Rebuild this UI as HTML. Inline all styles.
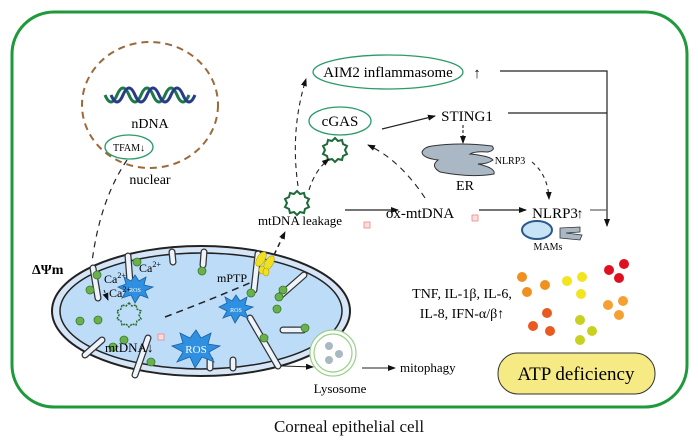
<!DOCTYPE html>
<html><head><meta charset="utf-8"><style>
html,body{margin:0;padding:0;background:#fff;}
svg{display:block;font-family:"Liberation Serif",serif;}
</style></head><body>
<svg width="698" height="442" viewBox="0 0 698 442" xmlns="http://www.w3.org/2000/svg">
<defs>
<marker id="ah" markerWidth="8" markerHeight="8" refX="7" refY="4" orient="auto" markerUnits="userSpaceOnUse"><path d="M0,1 L8,4 L0,7 Z" fill="#111"/></marker>
</defs>
<rect x="12" y="12" width="675" height="395" rx="42" fill="#fff" stroke="#1e9a3c" stroke-width="3"/>
<text x="349" y="432" font-size="17" text-anchor="middle" fill="#111">Corneal epithelial cell</text>

<!-- nucleus -->
<ellipse cx="150" cy="105" rx="68" ry="63" fill="none" stroke="#9b6a3a" stroke-width="2" stroke-dasharray="7,5"/>
<path d="M105,95 q6,14 12,0 q6,-14 12,0 q6,14 12,0 q6,-14 12,0 q6,14 12,0 q6,-14 12,0 q6,14 12,0" fill="none" stroke="#1c7a4a" stroke-width="3"/>
<path d="M111,95 q6,14 12,0 q6,-14 12,0 q6,14 12,0 q6,-14 12,0 q6,14 12,0 q6,-14 12,0 q6,14 12,0" fill="none" stroke="#283a8a" stroke-width="3"/>
<text x="150" y="128" font-size="14" text-anchor="middle">nDNA</text>
<ellipse cx="129" cy="147" rx="24" ry="12" fill="#fff" stroke="#2a9a6a" stroke-width="1.3"/>
<text x="129" y="151" font-size="10" text-anchor="middle">TFAM↓</text>
<text x="150" y="184" font-size="14" text-anchor="middle">nuclear</text>
<path d="M127,160 Q100,200 92,262" fill="none" stroke="#222" stroke-width="1.2" stroke-dasharray="6,5"/>

<!-- mitochondrion -->
<ellipse cx="201" cy="311" rx="149" ry="65" fill="#d6e6f6" stroke="#222" stroke-width="2"/>
<ellipse cx="201" cy="311" rx="141" ry="58" fill="#bcdcf8" stroke="#222" stroke-width="1.5"/>
<g stroke="#333" stroke-width="7" stroke-linecap="round"><path d="M93,268 L98,298 M128,256 L130,282 M172,252 L173,262 M204,252 L203,265 M258,254 L254,290 M304,275 L280,296 M303,330 L283,330 M102,340 L85,355 M148,338 L135,375 M210,360 L210,368 M233,360 L233,368 M250,318 L278,366"/></g>
<g stroke="#eef4fb" stroke-width="4.5" stroke-linecap="round"><path d="M93,268 L98,298 M128,256 L130,282 M172,252 L173,262 M204,252 L203,265 M258,254 L254,290 M304,275 L280,296 M303,330 L283,330 M102,340 L85,355 M148,338 L135,375 M210,360 L210,368 M233,360 L233,368 M250,318 L278,366"/></g>
<g fill="#6ab04c" stroke="#3a7a2a" stroke-width="0.8"><circle cx="97" cy="275" r="4"/><circle cx="90" cy="290" r="4"/><circle cx="137" cy="262" r="4"/><circle cx="202" cy="271" r="4"/><circle cx="283" cy="290" r="4"/><circle cx="279" cy="297" r="4"/><circle cx="277" cy="309" r="4"/><circle cx="80" cy="321" r="4"/><circle cx="98" cy="320" r="4"/><circle cx="124" cy="340" r="4"/><circle cx="113" cy="347" r="4"/><circle cx="305" cy="328" r="4"/><circle cx="264" cy="338" r="4"/><circle cx="151" cy="362" r="4"/><circle cx="251" cy="293" r="4"/></g>
<!-- ROS stars -->
<g fill="#2f8fe0" stroke="#1a5fa0" stroke-width="0.8">
<polygon points="135,275 139,281 146,277 144,285 153,287 145,291 148,298 140,295 135,303 131,295 122,298 126,291 118,287 126,284 124,277 131,281"/>
<polygon points="236,295 240,301 247,297 245,305 253,307 245,311 248,318 240,315 235,323 231,315 223,318 227,311 219,307 227,303 225,297 232,301"/>
<polygon points="196,330 201,338 211,333 208,344 220,346 209,352 214,362 202,357 195,368 190,357 177,362 183,352 172,346 183,343 180,333 190,338"/>
</g>
<text x="135" y="292" font-size="6" fill="#fff" text-anchor="middle">ROS</text>
<text x="236" y="312" font-size="6" fill="#fff" text-anchor="middle">ROS</text>
<text x="196" y="353" font-size="11" fill="#fff" text-anchor="middle">ROS</text>
<text x="104" y="283" font-size="12">Ca<tspan font-size="8" dy="-5">2+</tspan></text>
<text x="109" y="297" font-size="12">Ca<tspan font-size="8" dy="-5">2+</tspan></text>
<text x="139" y="272" font-size="12">Ca<tspan font-size="8" dy="-5">2+</tspan></text>
<path d="M104,290 L108,300" stroke="#222" stroke-dasharray="3,2" marker-end="url(#ah)"/>
<path d="M129,303 l3,3 l4,-1 l1,4 l4,2 l-2,4 l2,4 l-4,2 l-1,4 l-4,-1 l-3,3 l-3,-3 l-4,1 l-1,-4 l-4,-2 l2,-4 l-2,-4 l4,-2 l1,-4 l4,1 z" fill="none" stroke="#2a6a2a" stroke-width="1.5" stroke-dasharray="2,1"/>
<text x="105" y="352" font-size="13">mtDNA↓</text>
<rect x="158" y="334" width="6" height="6" fill="#fdd" stroke="#e88" stroke-width="0.8"/>
<text x="217" y="282" font-size="12">mPTP</text>
<g fill="#f0e020" stroke="#b0a010" stroke-width="0.6"><ellipse cx="261" cy="259" rx="4" ry="8" transform="rotate(30 261 259)"/><ellipse cx="269" cy="263" rx="4" ry="8" transform="rotate(30 269 263)"/><ellipse cx="262" cy="270" rx="3" ry="4"/><ellipse cx="266" cy="272" rx="3" ry="4"/></g>
<path d="M165,317 Q210,300 252,282" fill="none" stroke="#222" stroke-width="1.5" stroke-dasharray="7,5"/>
<path d="M274,255 L285,232" fill="none" stroke="#222" stroke-width="1.5" stroke-dasharray="5,4" marker-end="url(#ah)"/>
<text x="32" y="274" font-size="14" font-weight="bold">ΔΨm</text>

<!-- lysosome -->
<circle cx="333" cy="353" r="23" fill="#fff" stroke="#9ad08a" stroke-width="1.2"/>
<circle cx="333" cy="353" r="19" fill="#fff" stroke="#9ad08a" stroke-width="1.2"/>
<g fill="#aab8c4"><circle cx="329" cy="346" r="4"/><circle cx="339" cy="354" r="4"/><circle cx="329" cy="360" r="4"/></g>
<text x="340" y="393" font-size="13" text-anchor="middle">Lysosome</text>
<path d="M283,366 L313,367" stroke="#222" marker-end="url(#ah)"/>
<path d="M362,368 L395,368" stroke="#222" marker-end="url(#ah)"/>
<text x="400" y="372" font-size="13">mitophagy</text>

<!-- top pathways -->
<ellipse cx="388" cy="72" rx="75" ry="17" fill="#fff" stroke="#2a9a6a" stroke-width="1.3"/>
<text x="388" y="77" font-size="15" text-anchor="middle">AIM2 inflammasome</text>
<text x="477" y="78" font-size="15" text-anchor="middle">↑</text>
<path d="M500,71 L607,71 L607,226" fill="none" stroke="#222" stroke-width="1.2" marker-end="url(#ah)"/>
<ellipse cx="340" cy="121" rx="31" ry="14" fill="#fff" stroke="#2a9a6a" stroke-width="1.3"/>
<text x="340" y="126" font-size="15" text-anchor="middle">cGAS</text>
<path d="M335,138 l3,3 l4,-1 l1,4 l4,2 l-2,4 l2,4 l-4,2 l-1,4 l-4,-1 l-3,3 l-3,-3 l-4,1 l-1,-4 l-4,-2 l2,-4 l-2,-4 l4,-2 l1,-4 l4,1 z" fill="none" stroke="#1e6a3a" stroke-width="2"/>
<path d="M297,191 l3,3 l4,-1 l1,4 l4,2 l-2,4 l2,4 l-4,2 l-1,4 l-4,-1 l-3,3 l-3,-3 l-4,1 l-1,-4 l-4,-2 l2,-4 l-2,-4 l4,-2 l1,-4 l4,1 z" fill="none" stroke="#1e6a3a" stroke-width="2"/>
<text x="300" y="225" font-size="13" text-anchor="middle">mtDNA leakage</text>
<path d="M298,186 Q290,130 306,79" fill="none" stroke="#222" stroke-width="1.1" stroke-dasharray="5,4" marker-end="url(#ah)"/>
<path d="M309,190 Q315,170 329,159" fill="none" stroke="#222" stroke-width="1.1" stroke-dasharray="5,4" marker-end="url(#ah)"/>
<path d="M425,198 Q400,160 368,145" fill="none" stroke="#222" stroke-width="1.1" stroke-dasharray="6,5" marker-end="url(#ah)"/>
<text x="467" y="121" font-size="15" text-anchor="middle">STING1</text>
<path d="M382,129 L435,116" stroke="#222" stroke-width="1.2" marker-end="url(#ah)"/>
<path d="M508,113 L607,113" stroke="#222" stroke-width="1.2"/>
<path d="M463,125 L463,143" stroke="#222" stroke-width="1.1" stroke-dasharray="3,2" marker-end="url(#ah)"/>
<!-- ER -->
<path d="M432,146 Q460,142 492,146 Q496,150 488,152 Q475,151 470,154 Q490,156 493,160 Q488,164 478,164 Q496,168 494,174 Q470,178 440,172 Q430,166 438,160 Q422,158 422,152 Q424,147 432,146 Z" fill="#a9b8c4" stroke="#333" stroke-width="1"/>
<text x="465" y="190" font-size="14" text-anchor="middle">ER</text>
<text x="510" y="164" font-size="10" text-anchor="middle">NLRP3</text>
<path d="M532,162 Q548,175 549,199" fill="none" stroke="#222" stroke-width="1.1" stroke-dasharray="4,4" marker-end="url(#ah)"/>
<text x="420" y="218" font-size="15" text-anchor="middle">ox-mtDNA</text>
<rect x="472" y="215" width="6" height="6" fill="#fdd" stroke="#e88" stroke-width="0.8"/>
<rect x="364" y="222" width="6" height="6" fill="#fdd" stroke="#e88" stroke-width="0.8"/>
<path d="M345,210 L398,210" stroke="#222" stroke-width="1.2" marker-end="url(#ah)"/>
<path d="M479,210 L526,210" stroke="#222" stroke-width="1.2" marker-end="url(#ah)"/>
<text x="555" y="218" font-size="15" text-anchor="middle">NLRP3</text>
<text x="580" y="218" font-size="14" text-anchor="middle">↑</text>
<path d="M590,210 L607,210" stroke="#666" stroke-width="1.2"/>
<ellipse cx="537" cy="230" rx="15" ry="9" fill="#c8e2f6" stroke="#2a5a8a" stroke-width="2"/>
<path d="M560,228 L580,227 L580,232 L566,233 L582,235 L580,240 L560,238 Z" fill="#a9b8c4" stroke="#333" stroke-width="0.8"/>
<text x="548" y="250" font-size="10" text-anchor="middle">MAMs</text>

<!-- cytokines -->
<text x="462" y="298" font-size="14" text-anchor="middle">TNF, IL-1β, IL-6,</text>
<text x="462" y="318" font-size="14" text-anchor="middle">IL-8, IFN-α/β↑</text>
<g>
<circle cx="522" cy="277" r="5" fill="#f0901e"/><circle cx="527" cy="292" r="5" fill="#f0901e"/><circle cx="545" cy="285" r="5" fill="#f0901e"/>
<circle cx="567" cy="281" r="5" fill="#f2e420"/><circle cx="582" cy="277" r="5" fill="#f2e420"/><circle cx="581" cy="294" r="5" fill="#f2e420"/>
<circle cx="609" cy="270" r="5" fill="#e01020"/><circle cx="624" cy="264" r="5" fill="#e01020"/><circle cx="619" cy="278" r="5" fill="#e01020"/>
<circle cx="547" cy="313" r="5" fill="#e85a20"/><circle cx="533" cy="326" r="5" fill="#e85a20"/><circle cx="550" cy="331" r="5" fill="#e85a20"/>
<circle cx="580" cy="320" r="5" fill="#c8d020"/><circle cx="592" cy="331" r="5" fill="#c8d020"/><circle cx="580" cy="340" r="5" fill="#c8d020"/>
<circle cx="608" cy="305" r="5" fill="#f5a030"/><circle cx="623" cy="301" r="5" fill="#f5a030"/><circle cx="619" cy="315" r="5" fill="#f5a030"/>
</g>
<rect x="498" y="353" width="157" height="41" rx="20" fill="#f6ea84" stroke="#333" stroke-width="1"/>
<text x="576" y="380" font-size="19" text-anchor="middle">ATP deficiency</text>
</svg>
</body></html>
